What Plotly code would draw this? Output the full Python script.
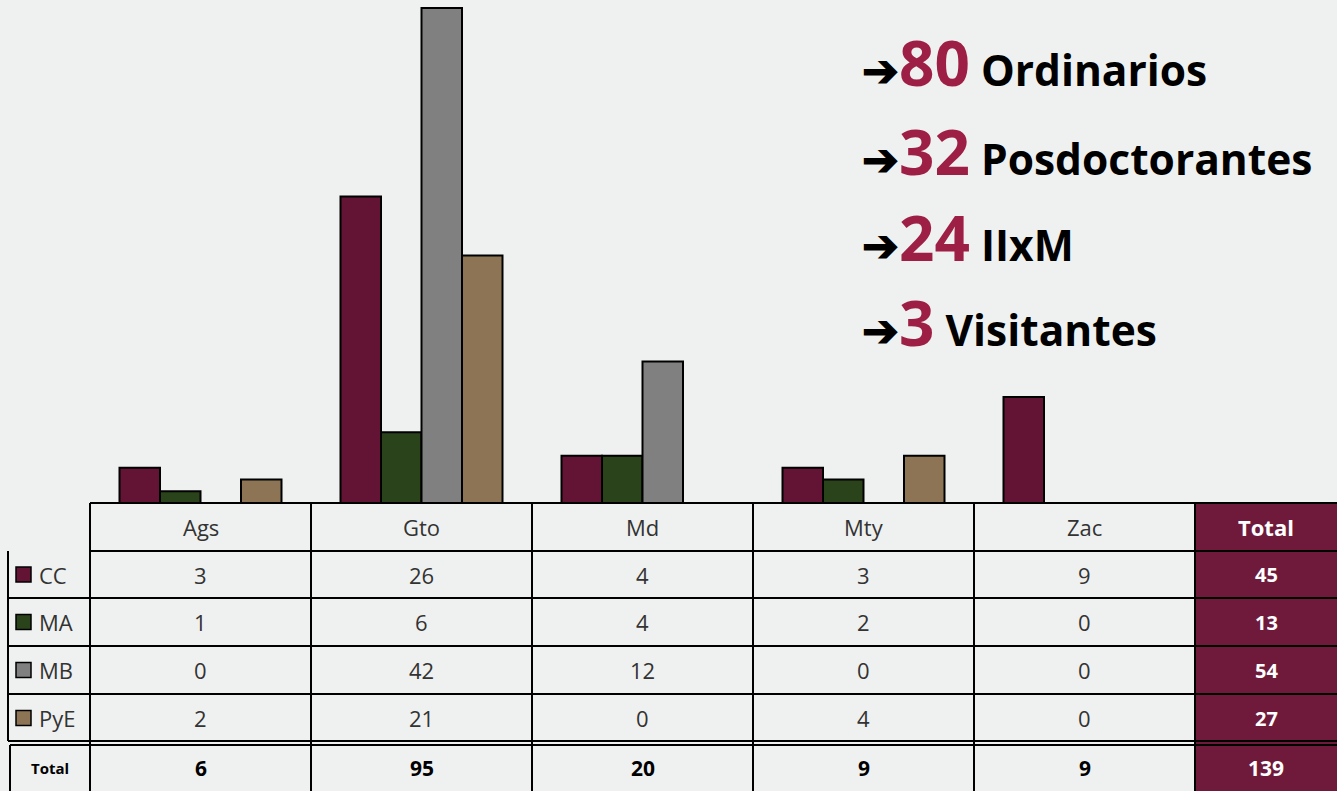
import plotly.graph_objects as go

# ---------------- data ----------------
categories = ["Ags", "Gto", "Md", "Mty", "Zac"]
series_names = ["CC", "MA", "MB", "PyE"]
cc_values = [3, 26, 4, 3, 9]
ma_values = [1, 6, 4, 2, 0]
mb_values = [0, 42, 12, 0, 0]
pye_values = [2, 21, 0, 4, 0]
series_colors = ["#631435", "#2b431b", "#808080", "#8d7455"]

highlight_counts = [80, 32, 24, 3]
highlight_labels = ["Ordinarios", "Posdoctorantes", "IIxM", "Visitantes"]
total_label = "Total"

series_values = [cc_values, ma_values, mb_values, pye_values]
row_totals = [sum(v) for v in series_values]
col_totals = [sum(v[i] for v in series_values) for i in range(len(categories))]
grand_total = sum(row_totals)

# ---------------- geometry helpers (pixel -> paper) ----------------
W, H = 1337, 791
L, R_EDGE, T, B_EDGE = 90, 1195, 0, 503
PW, PH = R_EDGE - L, B_EDGE - T


def px(x):
    return (x - L) / PW


def py(y):
    return (B_EDGE - y) / PH


BG = "#eff1f0"
MAROON = "#6f1a3b"
TEXT = "#333333"
FONT = "Open Sans"

fig = go.Figure()
for name, vals, col in zip(series_names, series_values, series_colors):
    fig.add_trace(go.Bar(
        x=categories, y=vals, name=name,
        marker=dict(color=col, line=dict(color="black", width=2)),
        showlegend=False, hoverinfo="x+y+name",
    ))

shapes = []
annotations = []


def note(x, y, text, size, color, xref="paper", xanchor="center", bold=False):
    if bold:
        text = "<b>" + text + "</b>"
    annotations.append(dict(x=x, xref=xref, xanchor=xanchor, y=y, yref="paper",
                            yanchor="middle", text=text, showarrow=False,
                            font=dict(family=FONT, size=size, color=color)))


row_edges = [503, 551, 598, 646, 694, 742, 791]
col_edges = [px(L + PW * k / len(categories)) for k in range(len(categories) + 1)]
x_left = px(8)
x_total_r = px(W)
x_total_c = px(1266)

# total column background
shapes.append(dict(type="rect", xref="paper", yref="paper", x0=1.0, x1=x_total_r,
                   y0=py(791), y1=py(503), fillcolor=MAROON, line=dict(width=0), layer="below"))

# horizontal lines
for y in (503, 551):
    shapes.append(dict(type="line", xref="paper", yref="paper", x0=0, x1=x_total_r,
                       y0=py(y), y1=py(y), line=dict(color="black", width=2)))
for y in row_edges[2:5]:
    shapes.append(dict(type="line", xref="paper", yref="paper", x0=x_left, x1=x_total_r,
                       y0=py(y), y1=py(y), line=dict(color="black", width=2)))
shapes.append(dict(type="line", xref="paper", yref="paper", x0=x_left, x1=x_total_r,
                   y0=py(741), y1=py(741), line=dict(color="black", width=2)))
shapes.append(dict(type="line", xref="paper", yref="paper", x0=px(10), x1=x_total_r,
                   y0=py(745), y1=py(745), line=dict(color="black", width=2)))

# vertical lines
for xe in col_edges:
    shapes.append(dict(type="line", xref="paper", yref="paper", x0=xe, x1=xe,
                       y0=py(791), y1=py(503), line=dict(color="black", width=2)))
shapes.append(dict(type="line", xref="paper", yref="paper", x0=x_left, x1=x_left,
                   y0=py(741), y1=py(551), line=dict(color="black", width=2)))
shapes.append(dict(type="line", xref="paper", yref="paper", x0=px(10), x1=px(10),
                   y0=py(791), y1=py(745), line=dict(color="black", width=2)))


def row_mid(i):
    return py((row_edges[i] + row_edges[i + 1]) / 2)


# header row
for cat in categories:
    note(cat, row_mid(0), cat, 22, TEXT, xref="x")
note(x_total_c, row_mid(0), total_label, 22, "white", bold=True)

# series rows
for r, (name, vals, col) in enumerate(zip(series_names, series_values, series_colors)):
    ym = row_mid(r + 1)
    ypix = (row_edges[r + 1] + row_edges[r + 2]) / 2
    shapes.append(dict(type="rect", xref="paper", yref="paper", x0=px(16), x1=px(31),
                       y0=py(ypix + 7.5), y1=py(ypix - 7.5), fillcolor=col,
                       line=dict(color="black", width=1.5)))
    note(px(37), ym, name, 22, TEXT, xanchor="left")
    for cat, v in zip(categories, vals):
        note(cat, ym, str(v), 22, TEXT, xref="x")
    note(x_total_c, ym, str(row_totals[r]), 20, "white", bold=True)

# total row
ym = py(768)
note(px(50), ym, total_label, 15, "black", bold=True)
for cat, v in zip(categories, col_totals):
    note(cat, ym, str(v), 21, "black", xref="x", bold=True)
note(x_total_c, ym, str(grand_total), 21, "white", bold=True)

# highlight text on the right
line_y = [62, 151, 237, 322]
for n, lab, yy in zip(highlight_counts, highlight_labels, line_y):
    txt = ("<b><span style='font-size:44px'>➔</span>"
           "<span style='color:#9e1f45;font-size:62px'>%d</span> %s</b>" % (n, lab))
    note(px(860), py(yy), txt, 42.5, "black", xanchor="left")

fig.update_layout(
    width=W, height=H,
    margin=dict(l=L, r=W - R_EDGE, t=T, b=H - B_EDGE, pad=0),
    paper_bgcolor=BG, plot_bgcolor=BG,
    barmode="group", bargap=0.267, bargroupgap=0,
    xaxis=dict(type="category", showticklabels=False, showgrid=False, zeroline=False,
               showline=False, ticks="", range=[-0.5, 4.5]),
    yaxis=dict(visible=False, range=[0, 42.67], showgrid=False, zeroline=False),
    shapes=shapes, annotations=annotations,
    showlegend=False,
)

fig.write_html("out.html", config={"displayModeBar": False},
               post_script="document.body.style.margin='0px';document.body.style.overflow='hidden';")
